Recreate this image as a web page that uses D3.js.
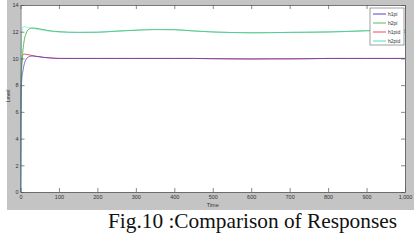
<!DOCTYPE html>
<html>
<head>
<meta charset="utf-8">
<script src="https://cdn.jsdelivr.net/npm/d3@7"></script>
<style>
  body { margin: 0; background: #fff; }
  svg { display: block; }
</style>
</head>
<body>
<div id="chart"></div>
<script>
// time samples and the four responses
var time = [0, 1, 3, 6, 10, 15, 20, 30, 40, 60, 80, 100, 150, 200, 250, 300, 350, 400, 450, 500, 550, 600, 650, 700, 750, 800, 850, 900, 950, 1000];
var h1pi  = [0, 6.5, 8.3, 9.0, 9.6, 9.95, 10.1, 10.18, 10.16, 10.08, 10.03, 10.0, 10.0, 10.0, 10.0, 10.0, 10.0, 10.0, 10.0, 9.98, 9.97, 9.96, 9.97, 9.97, 9.98, 10.0, 10.0, 10.0, 10.0, 10.0];
var h2pi  = [0, 7.0, 9.2, 10.5, 11.4, 11.9, 12.15, 12.28, 12.26, 12.15, 12.05, 12.0, 11.95, 11.96, 12.04, 12.11, 12.16, 12.15, 12.06, 11.98, 11.94, 11.92, 11.93, 11.95, 11.96, 11.98, 12.02, 12.07, 12.1, 12.1];
var h1pid = [0, 7.5, 9.5, 10.25, 10.32, 10.3, 10.28, 10.22, 10.16, 10.08, 10.03, 10.0, 10.0, 10.0, 10.0, 10.0, 10.0, 10.0, 10.0, 9.98, 9.97, 9.96, 9.97, 9.97, 9.98, 10.0, 10.0, 10.0, 10.0, 10.0];
var h2pid = [0, 9.0, 11.8, 12.35, 12.38, 12.35, 12.3, 12.25, 12.2, 12.1, 12.02, 11.98, 11.95, 11.97, 12.05, 12.12, 12.17, 12.15, 12.05, 11.98, 11.94, 11.92, 11.93, 11.95, 11.97, 11.98, 12.02, 12.08, 12.1, 12.1];

var seriesNames = ["h1pi", "h2pi", "h1pid", "h2pid"];
var seriesValues = [h1pi, h2pi, h1pid, h2pid];
var seriesColors = ["#5a3fc8", "#5cb85c", "#e8505a", "#48e0d0"];
// drawing order + opacity so the overlapping lines blend like the original
var drawOrder = [2, 1, 0, 3];
var drawOpacity = [0.75, 1, 1, 0.55];

var xTicks = d3.range(0, 1001, 100);
var yTicks = d3.range(0, 15, 2);

var W = 414, H = 240;
var plot = { left: 20.5, right: 405, top: 5, bottom: 192 };

var svg = d3.select("#chart").append("svg")
    .attr("width", W)
    .attr("height", H);

// figure background (matlab grey)
svg.append("rect")
    .attr("x", 7).attr("y", 0)
    .attr("width", W - 7).attr("height", 210)
    .attr("fill", "#c4c4c4");

svg.append("rect")
    .attr("x", plot.left).attr("y", plot.top)
    .attr("width", plot.right - plot.left).attr("height", plot.bottom - plot.top)
    .attr("fill", "#fff");

var x = d3.scaleLinear().domain([0, 1000]).range([plot.left, plot.right]);
var y = d3.scaleLinear().domain([0, 14]).range([plot.bottom, plot.top]);

// lines
var line = d3.line()
    .x(function (d) { return x(d[0]); })
    .y(function (d) { return y(d[1]); })
    .curve(d3.curveMonotoneX);

drawOrder.forEach(function (k) {
    var pts = time.map(function (t, i) { return [t, seriesValues[k][i]]; });
    svg.append("path")
        .attr("d", line(pts))
        .attr("fill", "none")
        .attr("stroke", seriesColors[k])
        .attr("stroke-opacity", drawOpacity[k])
        .attr("stroke-width", 1);
});

// axes with inward ticks
function styleAxis(g) {
    g.select(".domain").attr("stroke", "#555").attr("stroke-width", 0.8);
    g.selectAll(".tick line").attr("stroke", "#555").attr("stroke-width", 0.7);
    g.selectAll("text").attr("fill", "#333")
        .style("font-family", "'Liberation Sans', Arial, sans-serif")
        .style("font-size", "5.5px");
}

svg.append("g")
    .attr("transform", "translate(0," + plot.bottom + ")")
    .call(d3.axisBottom(x).tickValues(xTicks).tickSize(-4).tickSizeOuter(0).tickPadding(3))
    .call(styleAxis);

svg.append("g")
    .attr("transform", "translate(0," + plot.top + ")")
    .call(d3.axisTop(x).tickValues(xTicks).tickSize(-4).tickSizeOuter(0).tickFormat(""))
    .call(styleAxis);

svg.append("g")
    .attr("transform", "translate(" + plot.left + ",0)")
    .call(d3.axisLeft(y).tickValues(yTicks).tickSize(-4).tickSizeOuter(0).tickPadding(2))
    .call(styleAxis);

svg.append("g")
    .attr("transform", "translate(" + plot.right + ",0)")
    .call(d3.axisRight(y).tickValues(yTicks).tickSize(-4).tickSizeOuter(0).tickFormat(""))
    .call(styleAxis);

// axis labels
svg.append("text")
    .attr("x", (plot.left + plot.right) / 2)
    .attr("y", 207)
    .attr("text-anchor", "middle")
    .style("font-family", "'Liberation Sans', Arial, sans-serif")
    .style("font-size", "5.5px")
    .attr("fill", "#333")
    .text("Time");

svg.append("text")
    .attr("transform", "translate(10,96) rotate(-90)")
    .attr("text-anchor", "middle")
    .style("font-family", "'Liberation Sans', Arial, sans-serif")
    .style("font-size", "5.5px")
    .attr("fill", "#333")
    .text("Level");

// legend
var legend = svg.append("g").attr("transform", "translate(370,8)");
legend.append("rect")
    .attr("width", 34).attr("height", 37)
    .attr("fill", "#fff")
    .attr("stroke", "#777")
    .attr("stroke-width", 0.7);

seriesNames.forEach(function (name, i) {
    var ly = 6 + i * 9;
    legend.append("line")
        .attr("x1", 3).attr("x2", 16)
        .attr("y1", ly).attr("y2", ly)
        .attr("stroke", seriesColors[i])
        .attr("stroke-width", 1);
    legend.append("text")
        .attr("x", 18).attr("y", ly + 2)
        .style("font-family", "'Liberation Sans', Arial, sans-serif")
        .style("font-size", "5px")
        .attr("fill", "#333")
        .text(name);
});

// figure caption
svg.append("text")
    .attr("x", 108)
    .attr("y", 228)
    .attr("textLength", 289)
    .attr("lengthAdjust", "spacingAndGlyphs")
    .style("font-family", "'Liberation Serif', 'Times New Roman', serif")
    .style("font-size", "21px")
    .attr("fill", "#111")
    .text("Fig.10 :Comparison of Responses");
</script>
</body>
</html>
